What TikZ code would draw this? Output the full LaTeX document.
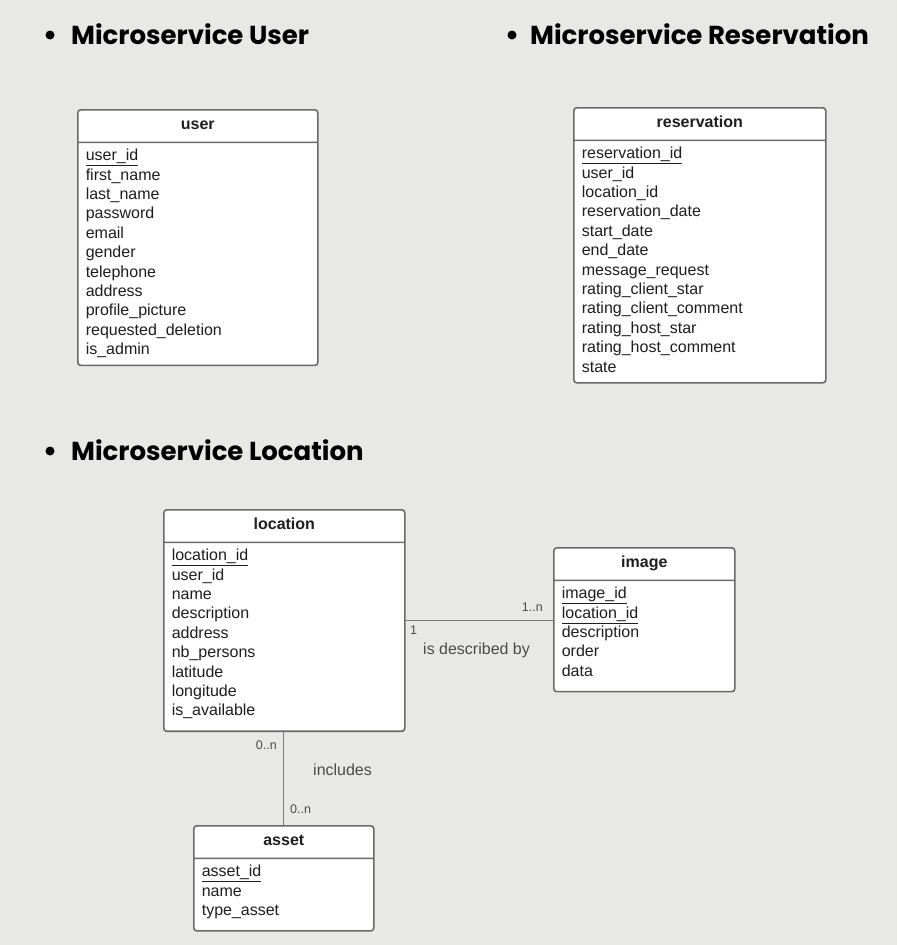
\documentclass[tikz,border=0pt]{standalone}
\usepackage{fontspec}
\setmainfont{Liberation Sans}
\newfontfamily\headfont{Poppins}
\usetikzlibrary{shapes.multipart}

\definecolor{bgcol}{HTML}{E8E8E6}
\definecolor{boxline}{HTML}{6A6A6A}
\definecolor{linkcol}{HTML}{7A7A7A}
\definecolor{labelcol}{HTML}{4A4A4A}
\definecolor{inkcol}{HTML}{1E1E1E}

\tikzset{
  entity/.style={rectangle split, rectangle split parts=2,
    rectangle split part align={center,left},
    draw=boxline, line width=1.6pt, rounded corners=3pt, fill=white,
    anchor=north west, inner xsep=8pt, inner ysep=4pt,
    text=inkcol, font=\fontsize{16}{19.4}\selectfont},
  service/.style={anchor=base west, inner sep=0pt,
    font=\headfont\bfseries\fontsize{26}{30}\selectfont},
  dot/.style={circle, fill=black, inner sep=0pt, minimum size=9pt},
  link/.style={draw=linkcol, line width=1.3pt},
  card/.style={inner sep=0pt, text=labelcol, font=\fontsize{12.5}{14}\selectfont},
  role/.style={inner sep=0pt, text=labelcol, font=\fontsize{16}{19}\selectfont}
}

\newcommand{\hd}[1]{\rule[-8pt]{0pt}{23pt}\textbf{#1}}
\newcommand{\pk}[1]{\underline{#1}}
\newcommand{\tail}{\rule[-10.5pt]{0pt}{1pt}}

\begin{document}
\begin{tikzpicture}[x=1pt, y=-1pt]
  \fill[bgcol] (0,0) rectangle (897,945);
  \useasboundingbox (0,0) rectangle (897,945);

  % section titles
  \node[dot] (d-user) at (50,35) {};
  \node[service] (t-user) at (71,44) {Microservice User};
  \node[dot] (d-resa) at (512,35) {};
  \node[service] (t-resa) at (530,44) {Microservice Reservation};
  \node[dot] (d-loc) at (50,451) {};
  \node[service] (t-loc) at (71,460) {Microservice Location};

  % tables
  \node[entity, minimum width=240pt] (user) at (77,109) {\hd{user}
    \nodepart{two}\begin{tabular}{@{}l@{}}
      \pk{user\_id}\\ first\_name\\ last\_name\\ password\\ email\\ gender\\
      telephone\\ address\\ profile\_picture\\ requested\_deletion\\ is\_admin
    \end{tabular}};

  \node[entity, minimum width=252pt] (resa) at (573,107) {\hd{reservation}
    \nodepart{two}\begin{tabular}{@{}l@{}}
      \pk{reservation\_id}\\ user\_id\\ location\_id\\ reservation\_date\\
      start\_date\\ end\_date\\ message\_request\\ rating\_client\_star\\
      rating\_client\_comment\\ rating\_host\_star\\ rating\_host\_comment\\ state
    \end{tabular}};

  \node[entity, minimum width=241pt] (location) at (163,509) {\hd{location}
    \nodepart{two}\begin{tabular}{@{}l@{}}
      \pk{location\_id}\\ user\_id\\ name\\ description\\ address\\
      nb\_persons\\ latitude\\ longitude\\ is\_available\tail
    \end{tabular}};

  \node[entity, minimum width=181pt] (image) at (553,547) {\hd{image}
    \nodepart{two}\begin{tabular}{@{}l@{}}
      \pk{image\_id}\\ \pk{location\_id}\\ description\\ order\\ data\tail
    \end{tabular}};

  \node[entity, minimum width=180pt] (asset) at (193,825) {\hd{asset}
    \nodepart{two}\begin{tabular}{@{}l@{}}
      \pk{asset\_id}\\ name\\ type\_asset\tail
    \end{tabular}};

  % relations
  \path[link] (location.east) -- (location.east -| image.west);
  \path[link] (asset.north |- location.south) -- (asset.north);

  \node[card, anchor=east] (c-img) at (543,607) {1..n};
  \node[card, anchor=west] (c-loc1) at (410,630) {1};
  \node[role, anchor=west] (r-img) at (423,650) {is described by};

  \node[card, anchor=east] (c-loc2) at (277,745) {0..n};
  \node[role, anchor=west] (r-asset) at (313,770) {includes};
  \node[card, anchor=west] (c-asset) at (290,809) {0..n};
\end{tikzpicture}
\end{document}
